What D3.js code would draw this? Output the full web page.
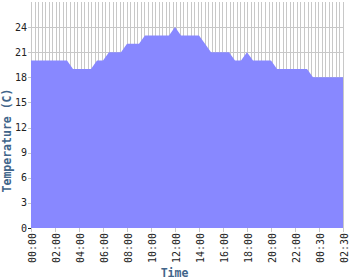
<!DOCTYPE html>
<html>
<head>
<meta charset="utf-8">
<script src="https://cdn.jsdelivr.net/npm/d3@7"></script>
<style>
  body { margin: 0; background: #fff; }
  svg { display: block; }
  text { font-family: "DejaVu Sans Mono", monospace; }
</style>
</head>
<body>
<svg width="350" height="280"></svg>
<script>
// temperature readings, one every 30 minutes (00:00 sample of day 2 is missing)
const temps = [
  20, 20, 20, 20, 20, 20, 20, 19, 19, 19, 19, 20, 20, 21, 21, 21, 22, 22, 22,
  23, 23, 23, 23, 23, 24, 23, 23, 23, 23, 22, 21, 21, 21, 21, 20, 20, 21, 20,
  20, 20, 20, 19, 19, 19, 19, 19, 19, 18, 18, 18, 18, 18, 18,
];
// a label on every 4th sample
const tickLabels = [
  "00:00", "02:00", "04:00", "06:00", "08:00", "10:00", "12:00",
  "14:00", "16:00", "18:00", "20:00", "22:00", "00:30", "02:30",
];
const yTicks = [0, 3, 6, 9, 12, 15, 18, 21, 24];

const svg = d3.select("svg");
const margin = { left: 31, right: 7, top: 2, bottom: 52 };
const width = 350, height = 280;

const x = d3.scaleLinear()
  .domain([0, temps.length - 1])
  .range([margin.left, width - margin.right]);
const y = d3.scaleLinear()
  .domain([0, 27])
  .range([height - margin.bottom, margin.top]);

const gridColor = "#c8c8c8";

// vertical grid (fine)
const nGrid = 88;
svg.append("g")
  .selectAll("line")
  .data(d3.range(nGrid + 1).map((i) => (i * (temps.length - 1)) / nGrid))
  .enter()
  .append("line")
  .attr("x1", (d) => Math.round(x(d)) + 0.5)
  .attr("x2", (d) => Math.round(x(d)) + 0.5)
  .attr("y1", y(27))
  .attr("y2", y(0))
  .attr("stroke", gridColor);

// horizontal grid + y ticks
svg.append("g")
  .selectAll("line")
  .data(yTicks.filter((d) => d > 0))
  .enter()
  .append("line")
  .attr("x1", margin.left - 3)
  .attr("x2", width - margin.right)
  .attr("y1", (d) => Math.round(y(d)) + 0.5)
  .attr("y2", (d) => Math.round(y(d)) + 0.5)
  .attr("stroke", gridColor);

// the area
const area = d3.area()
  .x((d, i) => x(i))
  .y0(y(0))
  .y1((d) => y(d));

svg.append("path")
  .datum(temps)
  .attr("d", area)
  .attr("fill", "#8888ff");

// y tick labels
svg.append("g")
  .selectAll("text")
  .data(yTicks)
  .enter()
  .append("text")
  .attr("x", margin.left - 4)
  .attr("y", (d) => y(d))
  .attr("dy", "0.36em")
  .attr("text-anchor", "end")
  .attr("font-size", 10)
  .attr("fill", "#222")
  .text((d) => d);

// x ticks
const tickIdx = tickLabels.map((d, i) => i * 4);
svg.append("g")
  .selectAll("line")
  .data(tickIdx)
  .enter()
  .append("line")
  .attr("x1", (d) => Math.round(x(d)) + 0.5)
  .attr("x2", (d) => Math.round(x(d)) + 0.5)
  .attr("y1", y(0))
  .attr("y2", y(0) + 4)
  .attr("stroke", gridColor);

svg.append("line")
  .attr("x1", margin.left - 3)
  .attr("x2", margin.left)
  .attr("y1", y(0) + 0.5)
  .attr("y2", y(0) + 0.5)
  .attr("stroke", "#222");

svg.append("g")
  .selectAll("text")
  .data(tickIdx)
  .enter()
  .append("text")
  .attr("transform", (d) => `translate(${x(d) + 4.5},${y(0) + 5}) rotate(-90)`)
  .attr("text-anchor", "end")
  .attr("font-size", 10)
  .attr("fill", "#222")
  .text((d, i) => tickLabels[i]);

// axis titles
const titleColor = "#41658a";
svg.append("text")
  .attr("x", 174.5)
  .attr("y", 277)
  .attr("text-anchor", "middle")
  .attr("font-size", 11.5)
  .attr("font-weight", "bold")
  .attr("fill", titleColor)
  .text("Time");

svg.append("text")
  .attr("transform", "translate(11,140.5) rotate(-90)")
  .attr("text-anchor", "middle")
  .attr("font-size", 11.5)
  .attr("font-weight", "bold")
  .attr("fill", titleColor)
  .text("Temperature (C)");
</script>
</body>
</html>
